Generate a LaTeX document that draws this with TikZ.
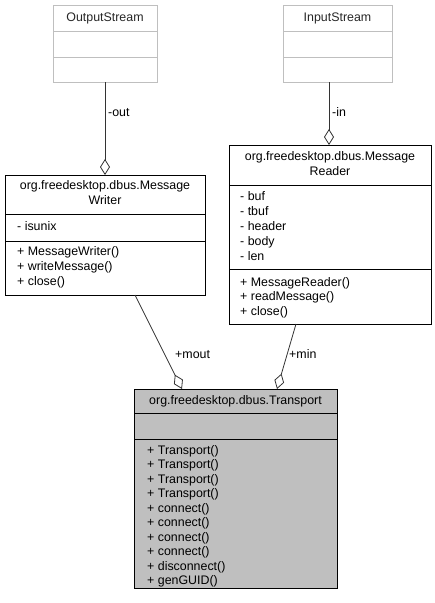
\documentclass[tikz,border=0pt]{standalone}
\usepackage{fontspec}
\setmainfont{Liberation Sans}
\usetikzlibrary{arrows.meta}
\begin{document}
\begin{tikzpicture}[x=1pt,y=-1pt,
  font=\fontsize{12.4}{14.5}\selectfont,
  cls/.style={draw=black,line width=0.8pt,anchor=north west,inner sep=0pt},
  ghost/.style={draw=black!25,line width=0.8pt,anchor=north west,inner sep=0pt},
  txt/.style={inner sep=0pt,text height=9pt,text depth=2.5pt},
  lt/.style={txt,anchor=west},
  ct/.style={txt,anchor=center},
  conn/.style={draw=black!80,line width=0.8pt,-{Diamond[open,length=16pt,width=10pt,line width=0.8pt]}}
]
\useasboundingbox (0,0) rectangle (435,603);
% OutputStream
\node[ghost,minimum width=104pt,minimum height=77pt] (os) at (53,5) {};
\draw[draw=black!25,line width=0.8pt] (53,31) -- (157,31) (53,57) -- (157,57);
\node[ct,text=black!85] (ost) at (105,18) {OutputStream};
% InputStream
\node[ghost,minimum width=109pt,minimum height=77pt] (is) at (283,5) {};
\draw[draw=black!25,line width=0.8pt] (283,31) -- (392,31) (283,57) -- (392,57);
\node[ct,text=black!85] (ist) at (337.5,18) {InputStream};
% MessageWriter
\node[cls,fill=white,minimum width=200pt,minimum height=120pt] (mw) at (5,175) {};
\draw[line width=0.8pt] (5,214) -- (205,214) (5,241) -- (205,241);
\node[ct] (mwh1) at (105,186) {org.freedesktop.dbus.Message};
\node[ct] (mwh2) at (105,201) {Writer};
\node[lt] (mwa1) at (17,227) {- isunix};
\node[lt] (mwm1) at (17,252) {+ MessageWriter()};
\node[lt] (mwm2) at (17,267) {+ writeMessage()};
\node[lt] (mwm3) at (17,282) {+ close()};
% MessageReader
\node[cls,fill=white,minimum width=202pt,minimum height=179pt] (mr) at (229,145) {};
\draw[line width=0.8pt] (229,185) -- (431,185) (229,269) -- (431,269);
\node[ct] (mrh1) at (330,157) {org.freedesktop.dbus.Message};
\node[ct] (mrh2) at (330,172) {Reader};
\node[lt] (mra1) at (240,197) {- buf};
\node[lt] (mra2) at (240,212) {- tbuf};
\node[lt] (mra3) at (240,227) {- header};
\node[lt] (mra4) at (240,242) {- body};
\node[lt] (mra5) at (240,257) {- len};
\node[lt] (mrm1) at (240,283) {+ MessageReader()};
\node[lt] (mrm2) at (240,297.5) {+ readMessage()};
\node[lt] (mrm3) at (240,312) {+ close()};
% Transport
\node[cls,fill=black!25,minimum width=203pt,minimum height=199pt] (tr) at (134,389) {};
\draw[line width=0.8pt] (134,413) -- (337,413) (134,439) -- (337,439);
\node[ct] (trh) at (235.5,401) {org.freedesktop.dbus.Transport};
\foreach \t [count=\i from 0] in {Transport(),Transport(),Transport(),Transport(),connect(),connect(),connect(),connect(),disconnect(),genGUID()}
  \node[lt] (trm\i) at (147,451+14.5*\i) {+ \t};
% connectors
\coordinate (osb) at (105,82);
\coordinate (mwt) at (105,175);
\coordinate (isb) at (329,82);
\coordinate (mrt) at (329,145);
\coordinate (mwb) at (135,295);
\coordinate (trt1) at (182,389);
\coordinate (mrb) at (296,324);
\coordinate (trt2) at (277,389);
\draw[conn] (osb) -- (mwt);
\draw[conn] (isb) -- (mrt);
\draw[conn] (mwb) -- (trt1);
\draw[conn] (mrb) -- (trt2);
\node[lt] (lout) at (108,113) {-out};
\node[lt] (lin) at (332,113) {-in};
\node[lt] (lmout) at (175,355) {+mout};
\node[lt] (lmin) at (289,355) {+min};
\end{tikzpicture}
\end{document}
